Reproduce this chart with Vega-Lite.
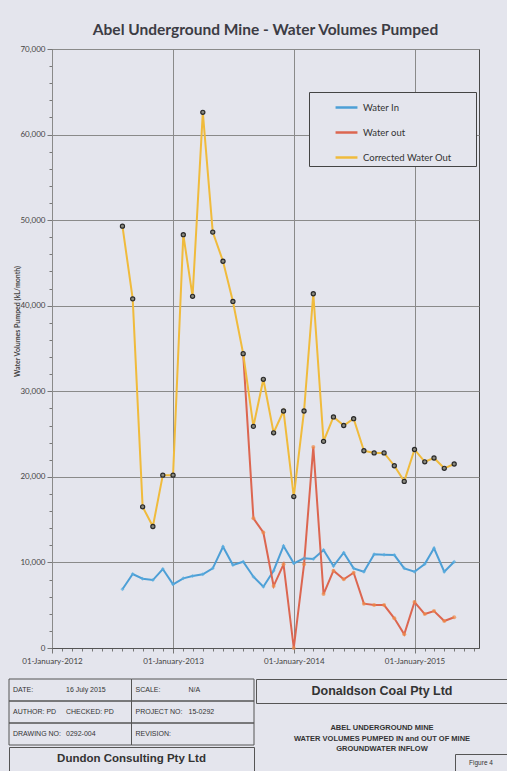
{
  "$schema": "https://vega.github.io/schema/vega-lite/v6.json",
  "padding": {"left": 8, "top": 22, "right": 0, "bottom": 0},
  "background": "#e4e5ed",
  "spacing": 12,
  "config": {
    "font": "Liberation Sans",
    "view": {"stroke": "#555"},
    "axis": {"labelFont": "Lato", "titleFont": "Lato"}
  },
  "datasets": {
    "pump": [
      {"date": "2012-08-01", "series": "Water In", "value": 6860},
      {"date": "2012-09-01", "series": "Water In", "value": 8640},
      {"date": "2012-10-01", "series": "Water In", "value": 8100},
      {"date": "2012-11-01", "series": "Water In", "value": 7940},
      {"date": "2012-12-01", "series": "Water In", "value": 9230},
      {"date": "2013-01-01", "series": "Water In", "value": 7440},
      {"date": "2013-02-01", "series": "Water In", "value": 8140},
      {"date": "2013-03-01", "series": "Water In", "value": 8410},
      {"date": "2013-04-01", "series": "Water In", "value": 8610},
      {"date": "2013-05-01", "series": "Water In", "value": 9310},
      {"date": "2013-06-01", "series": "Water In", "value": 11830},
      {"date": "2013-07-01", "series": "Water In", "value": 9700},
      {"date": "2013-08-01", "series": "Water In", "value": 10080},
      {"date": "2013-09-01", "series": "Water In", "value": 8330},
      {"date": "2013-10-01", "series": "Water In", "value": 7160},
      {"date": "2013-11-01", "series": "Water In", "value": 9030},
      {"date": "2013-12-01", "series": "Water In", "value": 11920},
      {"date": "2014-01-01", "series": "Water In", "value": 9890},
      {"date": "2014-02-01", "series": "Water In", "value": 10480},
      {"date": "2014-03-01", "series": "Water In", "value": 10400},
      {"date": "2014-04-01", "series": "Water In", "value": 11450},
      {"date": "2014-05-01", "series": "Water In", "value": 9580},
      {"date": "2014-06-01", "series": "Water In", "value": 11130},
      {"date": "2014-07-01", "series": "Water In", "value": 9310},
      {"date": "2014-08-01", "series": "Water In", "value": 8910},
      {"date": "2014-09-01", "series": "Water In", "value": 10950},
      {"date": "2014-10-01", "series": "Water In", "value": 10900},
      {"date": "2014-11-01", "series": "Water In", "value": 10860},
      {"date": "2014-12-01", "series": "Water In", "value": 9310},
      {"date": "2015-01-01", "series": "Water In", "value": 8910},
      {"date": "2015-02-01", "series": "Water In", "value": 9810},
      {"date": "2015-03-01", "series": "Water In", "value": 11650},
      {"date": "2015-04-01", "series": "Water In", "value": 8910},
      {"date": "2015-05-01", "series": "Water In", "value": 10080},
      {"date": "2013-08-01", "series": "Water out", "value": 34400},
      {"date": "2013-09-01", "series": "Water out", "value": 15150},
      {"date": "2013-10-01", "series": "Water out", "value": 13500},
      {"date": "2013-11-01", "series": "Water out", "value": 7240},
      {"date": "2013-12-01", "series": "Water out", "value": 9780},
      {"date": "2014-01-01", "series": "Water out", "value": 0},
      {"date": "2014-02-01", "series": "Water out", "value": 9780},
      {"date": "2014-03-01", "series": "Water out", "value": 23500},
      {"date": "2014-04-01", "series": "Water out", "value": 6300},
      {"date": "2014-05-01", "series": "Water out", "value": 9030},
      {"date": "2014-06-01", "series": "Water out", "value": 8030},
      {"date": "2014-07-01", "series": "Water out", "value": 8800},
      {"date": "2014-08-01", "series": "Water out", "value": 5180},
      {"date": "2014-09-01", "series": "Water out", "value": 5020},
      {"date": "2014-10-01", "series": "Water out", "value": 5020},
      {"date": "2014-11-01", "series": "Water out", "value": 3470},
      {"date": "2014-12-01", "series": "Water out", "value": 1600},
      {"date": "2015-01-01", "series": "Water out", "value": 5370},
      {"date": "2015-02-01", "series": "Water out", "value": 3970},
      {"date": "2015-03-01", "series": "Water out", "value": 4320},
      {"date": "2015-04-01", "series": "Water out", "value": 3150},
      {"date": "2015-05-01", "series": "Water out", "value": 3590},
      {"date": "2012-08-01", "series": "Corrected Water Out", "value": 49300},
      {"date": "2012-09-01", "series": "Corrected Water Out", "value": 40800},
      {"date": "2012-10-01", "series": "Corrected Water Out", "value": 16500},
      {"date": "2012-11-01", "series": "Corrected Water Out", "value": 14200},
      {"date": "2012-12-01", "series": "Corrected Water Out", "value": 20200},
      {"date": "2013-01-01", "series": "Corrected Water Out", "value": 20200},
      {"date": "2013-02-01", "series": "Corrected Water Out", "value": 48300},
      {"date": "2013-03-01", "series": "Corrected Water Out", "value": 41100},
      {"date": "2013-04-01", "series": "Corrected Water Out", "value": 62600},
      {"date": "2013-05-01", "series": "Corrected Water Out", "value": 48600},
      {"date": "2013-06-01", "series": "Corrected Water Out", "value": 45200},
      {"date": "2013-07-01", "series": "Corrected Water Out", "value": 40500},
      {"date": "2013-08-01", "series": "Corrected Water Out", "value": 34400},
      {"date": "2013-09-01", "series": "Corrected Water Out", "value": 25900},
      {"date": "2013-10-01", "series": "Corrected Water Out", "value": 31400},
      {"date": "2013-11-01", "series": "Corrected Water Out", "value": 25150},
      {"date": "2013-12-01", "series": "Corrected Water Out", "value": 27700},
      {"date": "2014-01-01", "series": "Corrected Water Out", "value": 17700},
      {"date": "2014-02-01", "series": "Corrected Water Out", "value": 27700},
      {"date": "2014-03-01", "series": "Corrected Water Out", "value": 41400},
      {"date": "2014-04-01", "series": "Corrected Water Out", "value": 24150},
      {"date": "2014-05-01", "series": "Corrected Water Out", "value": 27000},
      {"date": "2014-06-01", "series": "Corrected Water Out", "value": 26000},
      {"date": "2014-07-01", "series": "Corrected Water Out", "value": 26800},
      {"date": "2014-08-01", "series": "Corrected Water Out", "value": 23050},
      {"date": "2014-09-01", "series": "Corrected Water Out", "value": 22800},
      {"date": "2014-10-01", "series": "Corrected Water Out", "value": 22800},
      {"date": "2014-11-01", "series": "Corrected Water Out", "value": 21300},
      {"date": "2014-12-01", "series": "Corrected Water Out", "value": 19470},
      {"date": "2015-01-01", "series": "Corrected Water Out", "value": 23200},
      {"date": "2015-02-01", "series": "Corrected Water Out", "value": 21760},
      {"date": "2015-03-01", "series": "Corrected Water Out", "value": 22200},
      {"date": "2015-04-01", "series": "Corrected Water Out", "value": 21000},
      {"date": "2015-05-01", "series": "Corrected Water Out", "value": 21500}
    ]
  },
  "vconcat": [
    {
      "bounds": "flush",
      "hconcat": [
        {
          "width": 43,
          "height": 599,
          "data": {"name": "pump"},
          "view": {"stroke": null},
          "mark": {"type": "point", "opacity": 0},
          "encoding": {
            "y": {
              "field": "value", "type": "quantitative",
              "scale": {"domain": [0, 70000], "nice": false},
              "axis": {
                "offset": -43,
                "title": "Water Volumes Pumped (kL/month)",
                "titleFontSize": 7,
                "titleFontWeight": "bold",
                "titleColor": "#444",
                "titleX": -32,
                "titleY": 272,
                "values": [0, 2000, 4000, 6000, 8000, 10000, 12000, 14000, 16000, 18000, 20000, 22000, 24000, 26000, 28000, 30000, 32000, 34000, 36000, 38000, 40000, 42000, 44000, 46000, 48000, 50000, 52000, 54000, 56000, 58000, 60000, 62000, 64000, 66000, 68000, 70000],
                "labelExpr": "datum.value % 10000 === 0 ? format(datum.value, ',') : ''",
                "labelFontSize": 8,
                "labelColor": "#444",
                "labelPadding": 2,
                "labelOverlap": false,
                "grid": false,
                "tickColor": "#777",
                "tickSize": {"condition": {"test": "datum.value % 10000 === 0", "value": 5}, "value": 3},
                "domainColor": "#555"
              }
            }
          }
        },
        {
          "title": {"text": "Abel Underground Mine - Water Volumes Pumped", "font": "Lato", "fontSize": 15.5, "fontWeight": "bold", "color": "#3c3c44", "offset": 11, "anchor": "middle"},
          "width": 427,
          "height": 599,
          "data": {"name": "pump"},
          "view": {"stroke": "#4a4a4a", "fill": "#e4e5ed"},
          "encoding": {
            "x": {
              "field": "date", "type": "temporal",
              "scale": {"type": "utc", "domain": [{"year": 2012, "month": 1, "date": 1, "utc": true}, {"year": 2015, "month": 7, "date": 15, "utc": true}]},
              "axis": {
                "title": null,
                "tickCount": {"interval": "month", "step": 1},
                "labelExpr": "utcmonth(datum.value) === 0 ? utcFormat(datum.value, '01-%B-%Y') : ''",
                "labelOverlap": false,
                "labelBound": false,
                "labelFlush": false,
                "labelFontSize": 8,
                "labelColor": "#444",
                "labelPadding": 4,
                "grid": true,
                "gridColor": "#8a8a8a",
                "gridOpacity": {"condition": {"test": "utcmonth(datum.value) === 0", "value": 1}, "value": 0},
                "tickColor": "#777",
                "tickSize": {"condition": {"test": "utcmonth(datum.value) === 0", "value": 5}, "value": 3},
                "domainColor": "#555"
              }
            },
            "y": {
              "field": "value", "type": "quantitative",
              "scale": {"domain": [0, 70000], "nice": false},
              "axis": {
                "title": null,
                "labels": false,
                "ticks": false,
                "domain": false,
                "grid": true,
                "gridColor": "#8a8a8a",
                "values": [0, 10000, 20000, 30000, 40000, 50000, 60000, 70000]
              }
            }
          },
          "layer": [
            {
              "mark": {"type": "line", "strokeWidth": 2},
              "encoding": {
                "color": {
                  "field": "series", "type": "nominal",
                  "scale": {"domain": ["Water In", "Water out", "Corrected Water Out"], "range": ["#4d9fd6", "#dc6650", "#f0bb3c"]},
                  "legend": {
                    "orient": "none", "legendX": 300, "legendY": 43, "title": null,
                    "symbolType": "stroke", "symbolSize": 480, "symbolStrokeWidth": 2.5, "symbolOffset": 22,
                    "labelFont": "Lato", "labelFontSize": 9.5, "labelColor": "#333",
                    "labelExpr": "datum.label + '\u2800\u2800\u2800'",
                    "padding": 3, "rowPadding": 7,
                    "strokeColor": "#444", "fillColor": "#e4e5ed"
                  }
                }
              }
            },
            {
              "transform": [{"filter": "datum.series === 'Water In'"}],
              "mark": {"type": "point", "shape": "diamond", "filled": true, "size": 16, "color": "#5aaee0"}
            },
            {
              "transform": [{"filter": "datum.series === 'Water out'"}],
              "mark": {"type": "point", "shape": "circle", "filled": true, "size": 16, "color": "#f08c48"}
            },
            {
              "transform": [{"filter": "datum.series === 'Corrected Water Out'"}],
              "mark": {"type": "point", "shape": "circle", "filled": true, "size": 17, "fill": "#8a8a80", "stroke": "#2a2a2a", "strokeWidth": 1.2, "opacity": 1}
            }
          ]
        }
      ],
      "spacing": 0
    },
    {
      "hconcat": [
        {
          "vconcat": [
            {
              "width": 245,
              "height": 66,
              "view": {"stroke": null},
              "data": {"values": [
                {"row": "1", "col": "L", "label": "DATE:", "value": "16 July 2015"},
                {"row": "1", "col": "R", "label": "SCALE:", "value": "N/A"},
                {"row": "2", "col": "L", "label": "AUTHOR: PD", "value": "CHECKED: PD"},
                {"row": "2", "col": "R", "label": "PROJECT NO:", "value": "15-0292"},
                {"row": "3", "col": "L", "label": "DRAWING NO:", "value": "0292-004"},
                {"row": "3", "col": "R", "label": "REVISION:", "value": ""}
              ]},
              "encoding": {
                "x": {"field": "col", "type": "nominal", "axis": null, "scale": {"paddingInner": 0, "paddingOuter": 0}},
                "y": {"field": "row", "type": "nominal", "axis": null, "scale": {"paddingInner": 0, "paddingOuter": 0}}
              },
              "layer": [
                {"mark": {"type": "rect", "fill": "transparent", "stroke": "#555", "strokeWidth": 1}},
                {
                  "mark": {"type": "text", "align": "left", "baseline": "middle", "dx": 4, "fontSize": 7, "color": "#333"},
                  "encoding": {"x": {"field": "col", "type": "nominal", "bandPosition": 0}, "text": {"field": "label"}}
                },
                {
                  "mark": {"type": "text", "align": "left", "baseline": "middle", "dx": 57, "fontSize": 7, "color": "#333"},
                  "encoding": {"x": {"field": "col", "type": "nominal", "bandPosition": 0}, "text": {"field": "value"}}
                }
              ]
            },
            {
              "width": 245,
              "height": 24,
              "view": {"stroke": "#555"},
              "data": {"values": [{"t": "Dundon Consulting Pty Ltd"}]},
              "mark": {"type": "text", "fontSize": 11.5, "fontWeight": "bold", "color": "#333", "baseline": "middle"},
              "encoding": {"text": {"field": "t"}}
            }
          ],
          "spacing": 0
        },
        {
          "vconcat": [
            {
              "width": 252,
              "height": 24,
              "view": {"stroke": "#555"},
              "data": {"values": [{"t": "Donaldson Coal Pty Ltd"}]},
              "mark": {"type": "text", "fontSize": 12.5, "fontWeight": "bold", "color": "#333", "baseline": "middle"},
              "encoding": {"text": {"field": "t"}}
            },
            {
              "width": 252,
              "height": 48,
              "view": {"stroke": null},
              "data": {"values": [{"t": "ABEL UNDERGROUND MINE\nWATER VOLUMES PUMPED IN and OUT OF MINE\nGROUNDWATER INFLOW"}]},
              "mark": {"type": "text", "fontSize": 7.5, "fontWeight": "bold", "color": "#333", "baseline": "middle", "lineBreak": "\n", "lineHeight": 10.5},
              "encoding": {"text": {"field": "t"}}
            },
            {
              "hconcat": [
                {
                  "width": 198,
                  "height": 18,
                  "view": {"stroke": null},
                  "data": {"values": [{"t": ""}]},
                  "mark": {"type": "text"},
                  "encoding": {"text": {"field": "t"}}
                },
                {
                  "width": 52,
                  "height": 18,
                  "view": {"stroke": "#555"},
                  "data": {"values": [{"t": "Figure 4"}]},
                  "mark": {"type": "text", "fontSize": 6.5, "color": "#333", "baseline": "middle"},
                  "encoding": {"text": {"field": "t"}}
                }
              ],
              "spacing": 0
            }
          ],
          "spacing": 0
        }
      ],
      "spacing": 0
    }
  ]
}
